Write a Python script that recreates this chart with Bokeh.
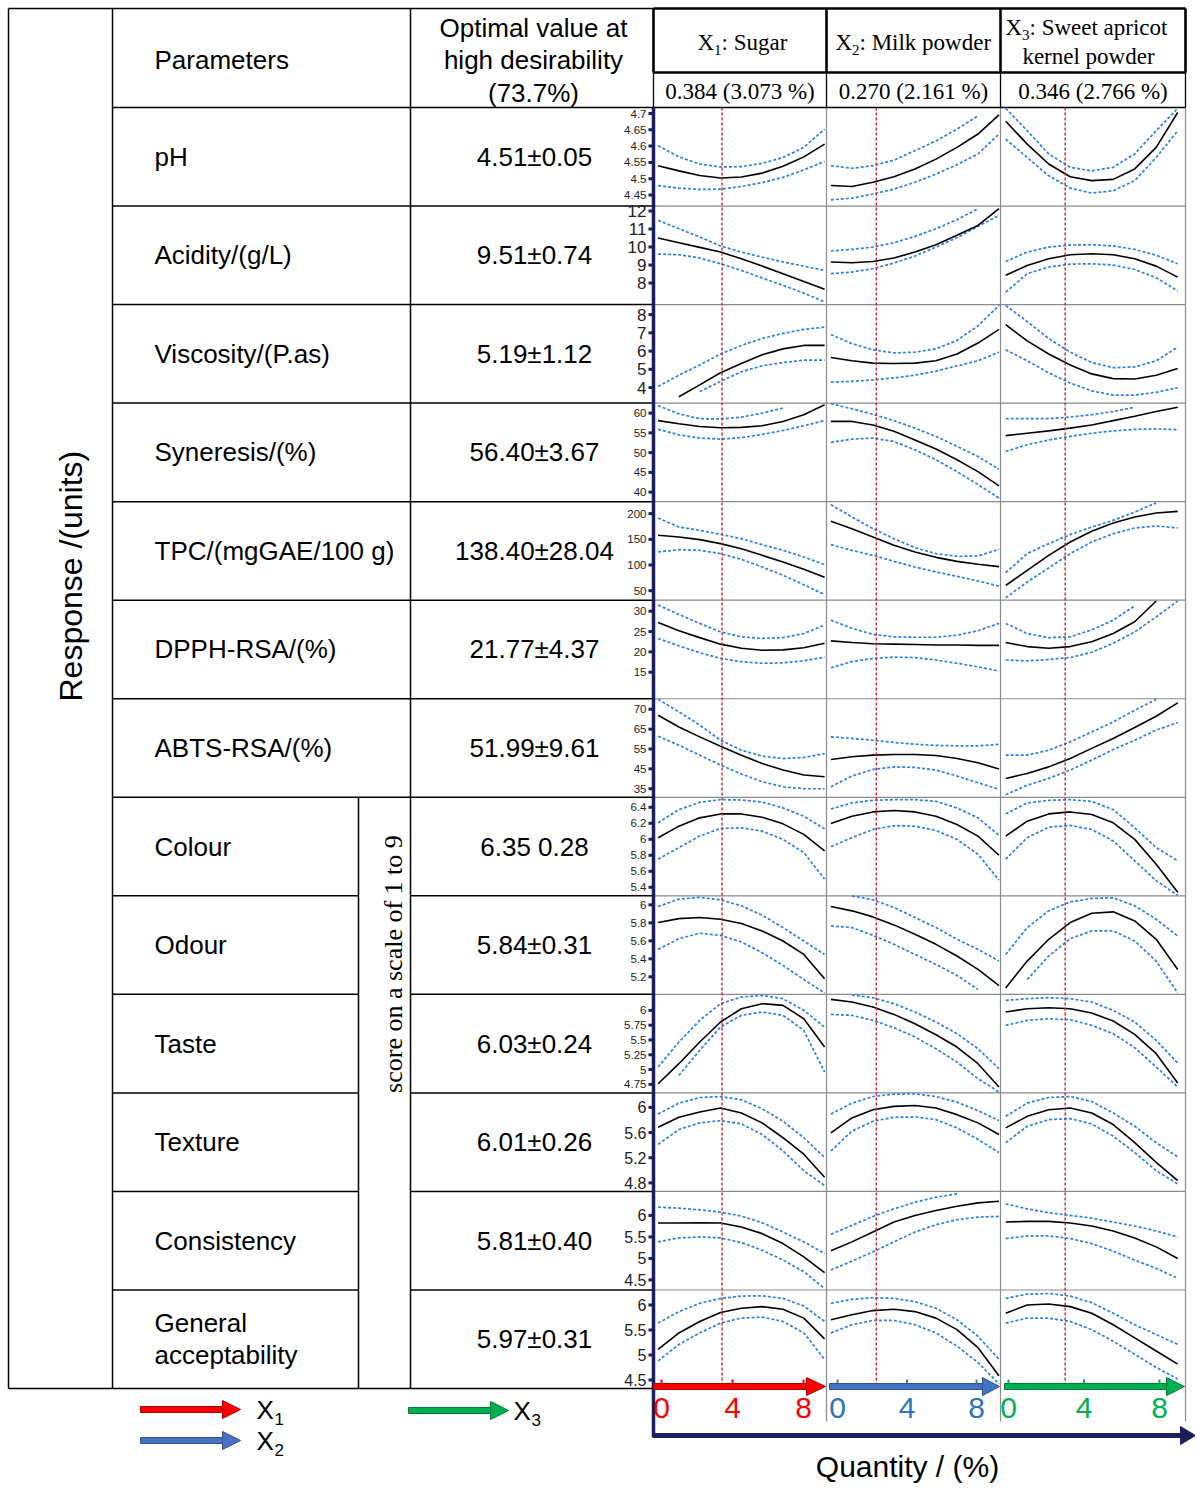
import math
from bokeh.plotting import figure
from bokeh.models import Range1d
from bokeh.embed import file_html
from bokeh.resources import INLINE
from bokeh.core.properties import value

nan = float("nan")

# ---------------- data ----------------
QUANTITY = [0, 1, 2, 3, 4, 5, 6, 7, 8]           # % of each ingredient
FACTOR_NAMES = [": Sugar", ": Milk powder", ": Sweet apricot"]
OPT_LABELS = ["0.384 (3.073 %)", "0.270 (2.161 %)", "0.346 (2.766 %)"]
OPT_PCT = [3.073, 2.161, 2.766]
QTY_TICKS = [0, 4, 8]

PARAMS = ["pH", "Acidity/(g/L)", "Viscosity/(P.as)", "Syneresis/(%)", "TPC/(mgGAE/100 g)",
          "DPPH-RSA/(%)", "ABTS-RSA/(%)", "Colour", "Odour", "Taste", "Texture", "Consistency",
          "General\nacceptability"]
OPTIMA = ["4.51\u00b10.05", "9.51\u00b10.74", "5.19\u00b11.12", "56.40\u00b13.67", "138.40\u00b128.04",
          "21.77\u00b14.37", "51.99\u00b19.61", "6.35 0.28", "5.84\u00b10.31", "6.03\u00b10.24",
          "6.01\u00b10.26", "5.81\u00b10.40", "5.97\u00b10.31"]

PH_TICKS = [4.7, 4.65, 4.6, 4.55, 4.5, 4.45]
PH_LABELS = ["4.7", "4.65", "4.6", "4.55", "4.5", "4.45"]
PH_FIT = [[4.540, 4.524, 4.510, 4.502, 4.505, 4.517, 4.538, 4.567, 4.606],
          [4.479, 4.476, 4.489, 4.506, 4.530, 4.560, 4.596, 4.637, 4.696],
          [4.676, 4.606, 4.545, 4.506, 4.494, 4.498, 4.530, 4.596, 4.703]]
PH_HI = [[4.601, 4.567, 4.545, 4.536, 4.537, 4.547, 4.565, 4.596, 4.652],
         [4.540, 4.532, 4.540, 4.557, 4.586, 4.616, 4.652, 4.693, nan],
         [4.716, 4.647, 4.576, 4.535, 4.524, 4.535, 4.576, 4.647, 4.716]]
PH_LO = [[4.479, 4.471, 4.467, 4.468, 4.476, 4.488, 4.504, 4.527, 4.553],
         [4.435, 4.440, 4.453, 4.468, 4.489, 4.514, 4.543, 4.576, 4.637],
         [4.621, 4.565, 4.509, 4.471, 4.456, 4.463, 4.494, 4.565, 4.647]]

AC_TICKS = [12, 11, 10, 9, 8]
AC_LABELS = ["12", "11", "10", "9", "8"]
AC_FIT = [[10.50, 10.24, 9.98, 9.72, 9.35, 8.94, 8.52, 8.09, 7.65],
          [9.17, 9.13, 9.20, 9.39, 9.72, 10.13, 10.65, 11.20, 12.13],
          [8.43, 8.98, 9.35, 9.57, 9.63, 9.57, 9.35, 8.94, 8.33]]
AC_HI = [[11.48, 11.02, 10.56, 10.06, 9.72, 9.44, 9.17, 8.94, 8.70],
         [9.78, 9.87, 10.00, 10.24, 10.59, 11.02, 11.52, 12.13, nan],
         [9.20, 9.72, 10.00, 10.11, 10.13, 10.06, 9.87, 9.54, 9.07]]
AC_LO = [[9.61, 9.57, 9.39, 9.07, 8.70, 8.28, 7.87, 7.44, 6.95],
         [8.52, 8.61, 8.80, 9.11, 9.50, 10.00, 10.52, 11.15, 11.76],
         [7.50, 8.52, 8.89, 9.05, 9.07, 9.00, 8.75, 8.30, 7.56]]

VI_TICKS = [8, 7, 6, 5, 4]
VI_LABELS = ["8", "7", "6", "5", "4"]
VI_FIT = [[nan, 3.50, 4.15, 4.81, 5.32, 5.80, 6.12, 6.31, 6.31],
          [5.65, 5.47, 5.34, 5.32, 5.34, 5.47, 5.84, 6.44, 7.19],
          [7.45, 6.56, 5.84, 5.24, 4.75, 4.49, 4.47, 4.68, 5.04]]
VI_HI = [[4.06, 4.68, 5.24, 5.84, 6.31, 6.69, 6.97, 7.19, 7.31],
         [6.91, 6.41, 6.07, 5.90, 5.94, 6.12, 6.59, 7.38, 8.50],
         [8.50, 7.62, 6.69, 5.94, 5.37, 5.09, 5.13, 5.47, 6.22]]
VI_LO = [[nan, nan, 3.78, 4.34, 4.87, 5.19, 5.37, 5.50, 5.50],
         [4.30, 4.34, 4.42, 4.53, 4.68, 4.90, 5.19, 5.47, 5.94],
         [6.07, 5.47, 4.81, 4.25, 3.82, 3.59, 3.59, 3.74, 4.00]]

SY_TICKS = [60, 55, 50, 45, 40]
SY_LABELS = ["60", "55", "50", "45", "40"]
SY_FIT = [[58.1, 57.3, 56.6, 56.3, 56.4, 56.8, 57.9, 59.6, 62.1],
          [57.9, 57.9, 57.0, 55.4, 53.2, 50.9, 48.2, 45.2, 41.6],
          [54.3, 54.9, 55.5, 56.2, 57.0, 58.1, 59.2, 60.4, 61.5]]
SY_HI = [[61.9, 59.8, 58.6, 58.5, 59.0, 60.0, 61.3, nan, nan],
         [62.4, 61.1, 59.7, 58.1, 56.2, 54.1, 51.6, 49.0, 45.8],
         [58.6, 58.6, 58.6, 59.0, 59.6, 60.4, 61.5, nan, nan]]
SY_LO = [[55.9, 54.5, 53.7, 53.4, 53.8, 54.6, 55.6, 56.8, 58.1],
         [52.6, 53.4, 53.7, 52.8, 50.7, 48.2, 45.2, 41.9, 38.5],
         [50.3, 52.0, 53.2, 54.1, 54.9, 55.5, 55.9, 56.0, 55.8]]

TP_TICKS = [200, 150, 100, 50]
TP_LABELS = ["200", "150", "100", "50"]
TP_FIT = [[157.8, 154.5, 149.4, 141.6, 131.8, 118.8, 105.8, 91.6, 76.0],
          [185.1, 170.8, 154.5, 138.3, 125.3, 114.9, 107.1, 101.3, 96.8],
          [60.0, 89.6, 118.8, 144.8, 165.6, 181.8, 193.5, 201.3, 204.5]]
TP_HI = [[191.6, 174.0, 167.5, 159.7, 151.3, 139.6, 128.6, 115.6, 100.6],
         [217.5, 193.5, 170.8, 151.3, 133.8, 122.1, 116.9, 117.5, 130.5],
         [85.0, 122.1, 141.6, 159.1, 174.0, 187.0, 203.2, 221.0, nan]]
TP_LO = [[125.3, 129.9, 128.6, 122.1, 111.0, 96.1, 79.9, 61.7, 42.2],
         [139.6, 128.6, 118.8, 107.1, 96.1, 86.4, 77.9, 68.8, 59.1],
         [36.0, 66.9, 94.2, 122.1, 144.8, 161.0, 172.1, 176.0, 172.1]]

DP_TICKS = [30, 25, 20, 15]
DP_LABELS = ["30", "25", "20", "15"]
DP_FIT = [[27.2, 25.2, 23.5, 21.9, 20.9, 20.4, 20.5, 21.0, 22.1],
          [22.7, 22.3, 22.0, 21.9, 21.8, 21.7, 21.7, 21.6, 21.6],
          [22.3, 21.3, 20.9, 21.3, 22.5, 24.5, 27.4, 32.5, nan]]
DP_HI = [[31.5, 29.2, 27.0, 24.9, 23.7, 23.3, 23.5, 24.5, 26.6],
         [27.8, 25.8, 24.3, 23.7, 23.6, 23.6, 24.1, 25.2, 27.0],
         [27.0, 24.5, 23.5, 23.7, 25.4, 27.8, 31.3, nan, nan]]
DP_LO = [[23.3, 21.5, 19.8, 18.4, 17.6, 17.2, 17.3, 17.8, 18.7],
         [16.1, 17.6, 18.4, 18.7, 18.6, 18.0, 17.2, 16.3, 15.3],
         [18.0, 17.8, 18.1, 18.6, 19.9, 22.1, 24.9, 28.6, 32.5]]

AB_TICKS = [75, 65, 55, 45, 35]
AB_LABELS = ["70", "65", "55", "45", "35"]
AB_FIT = [[72.0, 66.1, 61.1, 56.4, 51.9, 47.7, 44.4, 41.9, 41.0],
          [49.7, 51.1, 51.9, 52.2, 52.2, 51.7, 50.2, 48.1, 44.9],
          [40.2, 42.7, 46.0, 50.2, 55.3, 60.3, 65.8, 71.5, 78.2]]
AB_HI = [[80.0, 73.7, 67.0, 59.4, 54.4, 51.4, 50.2, 50.7, 52.7],
         [61.1, 60.3, 59.4, 58.3, 57.4, 56.8, 56.6, 56.6, 57.3],
         [51.9, 51.9, 54.4, 58.6, 63.6, 68.6, 74.5, 80.0, nan]]
AB_LO = [[61.4, 56.9, 51.9, 46.9, 42.4, 38.5, 36.0, 35.0, 35.0],
         [36.0, 41.4, 44.7, 46.0, 45.7, 44.4, 41.4, 38.0, 34.7],
         [32.0, 36.8, 40.2, 44.4, 49.4, 54.7, 59.4, 64.5, 68.3]]

CO_TICKS = [6.4, 6.2, 6.0, 5.8, 5.6, 5.4]
CO_LABELS = ["6.4", "6.2", "6", "5.8", "5.6", "5.4"]
CO_FIT = [[6.020, 6.164, 6.268, 6.317, 6.317, 6.276, 6.193, 6.061, 5.855],
          [6.198, 6.288, 6.342, 6.359, 6.342, 6.288, 6.185, 6.040, 5.800],
          [6.040, 6.226, 6.317, 6.342, 6.309, 6.206, 5.999, 5.689, 5.338]]
CO_HI = [[6.206, 6.371, 6.462, 6.495, 6.491, 6.466, 6.392, 6.288, 6.131],
         [6.379, 6.454, 6.487, 6.495, 6.495, 6.474, 6.392, 6.268, 6.049],
         [6.317, 6.454, 6.487, 6.495, 6.474, 6.371, 6.144, 5.896, 5.731]]
CO_LO = [[5.751, 5.896, 6.040, 6.136, 6.144, 6.102, 5.999, 5.834, 5.503],
         [5.908, 6.020, 6.123, 6.169, 6.164, 6.110, 5.999, 5.813, 5.491],
         [5.751, 6.020, 6.152, 6.173, 6.123, 5.979, 5.731, 5.483, 5.300]]

OD_TICKS = [6.0, 5.8, 5.6, 5.4, 5.2]
OD_LABELS = ["6", "5.8", "5.6", "5.4", "5.2"]
OD_FIT = [[5.803, 5.847, 5.859, 5.840, 5.792, 5.710, 5.598, 5.449, 5.178],
          [5.981, 5.933, 5.866, 5.777, 5.673, 5.561, 5.431, 5.282, 5.103],
          [5.077, 5.375, 5.617, 5.803, 5.907, 5.922, 5.821, 5.617, 5.282]]
OD_HI = [[5.981, 6.063, 6.082, 6.056, 5.989, 5.885, 5.747, 5.598, 5.449],
         [nan, 6.100, 6.056, 5.970, 5.859, 5.747, 5.617, 5.505, 5.375],
         [5.449, 5.747, 5.933, 6.033, 6.071, 6.078, 5.989, 5.840, 5.654]]
OD_LO = [[5.505, 5.624, 5.684, 5.661, 5.587, 5.468, 5.327, 5.170, 5.020],
         [5.766, 5.747, 5.661, 5.561, 5.449, 5.338, 5.215, 5.059, nan],
         [nan, 5.170, 5.431, 5.624, 5.710, 5.710, 5.598, 5.375, 5.020]]

TA_TICKS = [6.0, 5.75, 5.5, 5.25, 5.0, 4.75]
TA_LABELS = ["6", "5.75", "5.5", "5.25", "5", "4.75"]
TA_FIT = [[4.761, 5.099, 5.465, 5.803, 6.028, 6.113, 6.084, 5.859, 5.381],
          [6.186, 6.141, 6.056, 5.932, 5.775, 5.589, 5.381, 5.099, 4.705],
          [5.972, 6.028, 6.045, 6.028, 5.955, 5.820, 5.595, 5.268, 4.773]]
TA_HI = [[5.043, 5.465, 5.831, 6.113, 6.225, 6.253, 6.197, 6.000, 5.718],
         [nan, 6.260, 6.214, 6.113, 5.972, 5.803, 5.606, 5.352, 5.015],
         [6.169, 6.197, 6.214, 6.197, 6.141, 6.000, 5.803, 5.493, 5.110]]
TA_LO = [[nan, 4.902, 5.324, 5.718, 5.916, 5.972, 5.916, 5.662, 4.958],
         [5.932, 5.916, 5.831, 5.707, 5.550, 5.352, 5.127, 4.846, 4.620],
         [5.747, 5.831, 5.859, 5.842, 5.747, 5.606, 5.369, 5.043, 4.705]]

TE_TICKS = [6.0, 5.6, 5.2, 4.8]
TE_LABELS = ["6", "5.6", "5.2", "4.8"]
TE_FIT = [[5.686, 5.843, 5.927, 5.990, 5.911, 5.754, 5.518, 5.256, 4.889],
          [5.596, 5.832, 5.963, 6.016, 6.031, 5.990, 5.885, 5.754, 5.570],
          [5.675, 5.858, 5.963, 5.990, 5.911, 5.727, 5.439, 5.125, 4.836]]
TE_HI = [[5.895, 6.068, 6.157, 6.173, 6.121, 5.979, 5.780, 5.518, 5.203],
         [5.895, 6.068, 6.173, 6.210, 6.215, 6.173, 6.084, 5.948, 5.790],
         [5.858, 6.068, 6.157, 6.173, 6.094, 5.911, 5.701, 5.439, 5.214]]
TE_LO = [[5.413, 5.649, 5.754, 5.790, 5.738, 5.570, 5.308, 4.994, 4.758],
         [5.308, 5.623, 5.780, 5.843, 5.848, 5.806, 5.675, 5.492, 5.282],
         [5.439, 5.701, 5.806, 5.822, 5.738, 5.544, 5.282, 4.994, 4.784]]

CS_TICKS = [6.0, 5.5, 5.0, 4.5]
CS_LABELS = ["6", "5.5", "5", "4.5"]
CS_FIT = [[5.823, 5.823, 5.831, 5.823, 5.731, 5.577, 5.346, 5.038, 4.669],
          [5.177, 5.385, 5.615, 5.846, 6.000, 6.115, 6.215, 6.292, 6.331],
          [5.846, 5.862, 5.862, 5.823, 5.754, 5.638, 5.477, 5.269, 5.000]]
CS_HI = [[6.192, 6.169, 6.131, 6.077, 5.985, 5.831, 5.615, 5.385, 5.115],
         [5.562, 5.769, 5.977, 6.154, 6.308, 6.423, 6.500, nan, nan],
         [6.269, 6.154, 6.062, 6.000, 5.938, 5.846, 5.754, 5.638, 5.500]]
CS_LO = [[5.385, 5.477, 5.500, 5.477, 5.369, 5.192, 4.962, 4.692, 4.300],
         [4.731, 4.938, 5.154, 5.385, 5.615, 5.785, 5.900, 5.962, 5.977],
         [5.462, 5.523, 5.523, 5.462, 5.346, 5.169, 4.962, 4.769, 4.538]]

GA_TICKS = [6.0, 5.5, 5.0, 4.5]
GA_LABELS = ["6", "5.5", "5", "4.5"]
GA_FIT = [[5.112, 5.441, 5.671, 5.849, 5.934, 5.967, 5.914, 5.737, 5.322],
          [5.704, 5.803, 5.888, 5.914, 5.868, 5.737, 5.507, 5.145, 4.586],
          [5.836, 6.000, 6.020, 5.967, 5.836, 5.605, 5.342, 5.079, 4.816]]
GA_HI = [[5.638, 5.868, 6.033, 6.132, 6.178, 6.184, 6.132, 5.980, 5.671],
         [6.033, 6.112, 6.145, 6.132, 6.066, 5.934, 5.704, 5.375, 4.914],
         [6.132, 6.217, 6.230, 6.178, 6.046, 5.836, 5.605, 5.408, 5.211]]
GA_LO = [[4.882, 5.211, 5.441, 5.638, 5.737, 5.757, 5.671, 5.441, 4.914],
         [5.441, 5.605, 5.691, 5.691, 5.605, 5.441, 5.178, 4.849, 4.420],
         [5.638, 5.737, 5.737, 5.671, 5.507, 5.276, 5.013, 4.750, 4.520]]

ROWS = [
    (PH_TICKS, PH_LABELS, PH_FIT, PH_LO, PH_HI),
    (AC_TICKS, AC_LABELS, AC_FIT, AC_LO, AC_HI),
    (VI_TICKS, VI_LABELS, VI_FIT, VI_LO, VI_HI),
    (SY_TICKS, SY_LABELS, SY_FIT, SY_LO, SY_HI),
    (TP_TICKS, TP_LABELS, TP_FIT, TP_LO, TP_HI),
    (DP_TICKS, DP_LABELS, DP_FIT, DP_LO, DP_HI),
    (AB_TICKS, AB_LABELS, AB_FIT, AB_LO, AB_HI),
    (CO_TICKS, CO_LABELS, CO_FIT, CO_LO, CO_HI),
    (OD_TICKS, OD_LABELS, OD_FIT, OD_LO, OD_HI),
    (TA_TICKS, TA_LABELS, TA_FIT, TA_LO, TA_HI),
    (TE_TICKS, TE_LABELS, TE_FIT, TE_LO, TE_HI),
    (CS_TICKS, CS_LABELS, CS_FIT, CS_LO, CS_HI),
    (GA_TICKS, GA_LABELS, GA_FIT, GA_LO, GA_HI),
]

# ---------------- layout (page pixels) ----------------
FX0, FX1, FY0, FY1 = 0, 1195, 0, 1486
ROW0, ROW_H = 107.0, 98.54
TOP = 8
XL, XRESP, XPAR, X358, XOPT = 8, 112, 410, 358, 653
XCOL = [653, 826, 1000, 1185]
# pixel offsets (from the row top) of first and last tick of each row, and tick font size
TICK_PX = [(6, 87.5), (5, 77), (10, 83), (10, 89), (12, 89), (11, 72), (10.5, 90),
           (10, 90), (9, 81), (16, 90), (14.5, 90), (24, 88.5), (15, 90)]
TICK_FS = ["11.5px", "17px", "17px", "11.5px", "11.5px", "11.5px", "11.5px",
           "11.5px", "11.5px", "11.5px", "16px", "16px", "16px"]
CURVE_PX = [(657.6, 824.1), (830.4, 998.5), (1005.2, 1177.2)]   # where 0 % and 8 % fall
ARROW_PX = [(661, 803), (837, 976), (1008, 1159)]                # bottom arrow tick scale
BOTTOM = ROW0 + 13 * ROW_H

SANS = value("Liberation Sans")
SERIF = value("Liberation Serif")
NAVY = "#1b1f5c"
CI_COLOR = "#2a82e4"
DOT_RED = "#c0282d"


def lin_range(va, pa, vb, pb, lo_px, hi_px):
    k = (vb - va) / (pb - pa)
    return Range1d(start=va + (lo_px - pa) * k, end=va + (hi_px - pa) * k)


p = figure(width=FX1 - FX0, height=FY1 - FY0, x_range=Range1d(FX0, FX1), y_range=Range1d(FY1, FY0),
           x_axis_location=None, y_axis_location=None, toolbar_location=None,
           output_backend="svg", min_border=0, outline_line_color=None, title=None)
p.background_fill_color = "white"
p.border_fill_color = "white"
p.xgrid.grid_line_color = None
p.ygrid.grid_line_color = None
p.grid.visible = False

extra_x = {}
for c in range(3):
    extra_x[f"c{c}"] = lin_range(QUANTITY[0], CURVE_PX[c][0], QUANTITY[-1], CURVE_PX[c][1], FX0, FX1)
    extra_x[f"a{c}"] = lin_range(QTY_TICKS[0], ARROW_PX[c][0], QTY_TICKS[-1], ARROW_PX[c][1], FX0, FX1)
extra_y = {}
for r, (ticks, labels, fit, lo, hi) in enumerate(ROWS):
    top = ROW0 + r * ROW_H
    extra_y[f"r{r}"] = lin_range(ticks[0], top + TICK_PX[r][0], ticks[-1], top + TICK_PX[r][1], FY1, FY0)
p.extra_x_ranges = extra_x
p.extra_y_ranges = extra_y


def txt(x, y, s, size, font=SANS, align="left", color="black", angle=0.0, baseline="middle"):
    p.text(x=[x], y=[y], text=[s], text_font=font, text_font_size=size, text_align=align,
           text_baseline=baseline, text_color=color, angle=angle)


def seg(x0, y0, x1, y1, color="black", width=1.5):
    p.segment(x0=[x0], y0=[y0], x1=[x1], y1=[y1], line_color=color, line_width=width)


row_y = [ROW0 + i * ROW_H for i in range(14)]

# ---------- panel grid (gray) ----------
for i in range(1, 13):
    seg(XOPT, row_y[i], XCOL[3], row_y[i], "#8a8a8a", 1.2)
for xc in XCOL[1:]:
    seg(xc, ROW0, xc, 1421, "#8a8a8a", 1.2)

# ---------- left table ----------
seg(XL, TOP, XOPT, TOP)
seg(XL, TOP, XL, BOTTOM)
seg(XRESP, TOP, XRESP, BOTTOM)
seg(XPAR, TOP, XPAR, BOTTOM)
seg(X358, row_y[7], X358, BOTTOM)
seg(XL, BOTTOM, XOPT, BOTTOM)
for i in range(0, 8):
    seg(XRESP, row_y[i], XOPT, row_y[i])
for i in range(8, 13):
    seg(XRESP, row_y[i], X358, row_y[i])
    seg(XPAR, row_y[i], XOPT, row_y[i])

# ---------- header ----------
HB = 72
for xc in XCOL:
    seg(xc, TOP, xc, HB, "black", 2.6)
    seg(xc, HB, xc, ROW0, "black", 1.3)
seg(XCOL[0], TOP, XCOL[3], TOP, "black", 2.6)
seg(XCOL[0], HB, XCOL[3], HB, "black", 2.6)
seg(XCOL[0], ROW0, XCOL[3], ROW0, "black", 1.3)

txt(154, 59, "Parameters", "26px")
txt(533, 27, "Optimal value at", "26px", align="center")
txt(533, 59, "high desirability", "26px", align="center")
txt(533, 92, "(73.7%)", "26px", align="center")

head_x = [697, 835, 1005]
head_y = [42, 42, 27]
for c in range(3):
    txt(head_x[c], head_y[c], "X", "23px", SERIF)
    txt(head_x[c] + 16.5, head_y[c] + 7, str(c + 1), "15px", SERIF)
    txt(head_x[c] + 24, head_y[c], FACTOR_NAMES[c], "23px", SERIF)
    txt((XCOL[c] + XCOL[c + 1]) / 2, 91, OPT_LABELS[c], "23px", SERIF, align="center")
txt(1088, 56, "kernel powder", "23px", SERIF, align="center")

# ---------- row labels & optimum values ----------
for r in range(13):
    yc = (row_y[r] + row_y[r + 1]) / 2
    lab = PARAMS[r]
    if "\n" in lab:
        a, b = lab.split("\n")
        txt(154, yc - 16, a, "26px")
        txt(154, yc + 16, b, "26px")
    else:
        txt(154, yc, lab, "26px")
    txt(534, yc, OPTIMA[r], "26px", align="center")

txt(70, (TOP + BOTTOM) / 2 + 3, "Response /(units)", "32px", angle=math.pi / 2)
txt(393, (row_y[7] + BOTTOM) / 2, "score on a scale of 1 to 9", "26px", SERIF, angle=math.pi / 2)

# ---------- curves ----------
for r, (ticks, labels, fit, lo, hi) in enumerate(ROWS):
    rn = f"r{r}"
    for c in range(3):
        cn = f"c{c}"
        p.line(QUANTITY, hi[c], x_range_name=cn, y_range_name=rn, line_color=CI_COLOR,
               line_width=1.7, line_dash="3 2")
        p.line(QUANTITY, lo[c], x_range_name=cn, y_range_name=rn, line_color=CI_COLOR,
               line_width=1.7, line_dash="3 2")
        p.line(QUANTITY, fit[c], x_range_name=cn, y_range_name=rn, line_color="black",
               line_width=1.6)
    # tick labels and ticks
    p.text(x=[646] * len(ticks), y=ticks, text=labels, y_range_name=rn, text_font=SANS,
           text_font_size=TICK_FS[r], text_align="right", text_baseline="middle",
           text_color="#222222")
    p.segment(x0=[648] * len(ticks), x1=[653] * len(ticks), y0=ticks, y1=ticks,
              y_range_name=rn, line_color=NAVY, line_width=3)

# optimum dotted lines
for c in range(3):
    p.segment(x0=[OPT_PCT[c]], x1=[OPT_PCT[c]], y0=[ROW0], y1=[BOTTOM - 2],
              x_range_name=f"c{c}", line_color=DOT_RED, line_width=1.4, line_dash="3 2")

# ---------- y axis line & bottom arrows ----------
seg(XOPT, ROW0, XOPT, 1437, NAVY, 3.5)
seg(XOPT, 1435, 1182, 1435, NAVY, 5)
p.patch([1180, 1195, 1180], [1426, 1435, 1444], fill_color=NAVY, line_color=NAVY)

ARROW_COL = ["#ff0000", "#4472c4", "#00b050"]
ARROW_EDGE = ["#b00000", "#2f528f", "#007a3a"]
LABEL_COL = ["#ff0000", "#2e75b6", "#00b050"]
shaft = [(653, 808), (829, 984), (1004, 1168)]
for c in range(3):
    y = BOTTOM - 2
    p.quad(left=[shaft[c][0]], right=[shaft[c][1]], top=[y - 3], bottom=[y + 3],
           fill_color=ARROW_COL[c], line_color=ARROW_EDGE[c], line_width=1)
    tip = XCOL[c + 1] - 1
    p.patch([shaft[c][1] - 2, tip, shaft[c][1] - 2], [y - 9, y, y + 9],
            fill_color=ARROW_COL[c], line_color=ARROW_EDGE[c], line_width=1)
    p.segment(x0=QTY_TICKS, x1=QTY_TICKS, y0=[y - 7] * 3, y1=[y - 3] * 3,
              x_range_name=f"a{c}", line_color=ARROW_COL[c], line_width=2)
    p.text(x=QTY_TICKS, y=[1407] * 3, text=[str(t) for t in QTY_TICKS], x_range_name=f"a{c}",
           text_font=SANS, text_font_size="30px", text_align="center", text_baseline="middle",
           text_color=LABEL_COL[c])

txt(907, 1466, "Quantity / (%)", "30px", align="center")

# ---------- legend ----------
leg = [(140, 224, 1409, 0, 256), (140, 224, 1440, 1, 256), (408, 492, 1410, 2, 513)]
for x0, x1, y, c, tx in leg:
    p.quad(left=[x0], right=[x1], top=[y - 3], bottom=[y + 3],
           fill_color=ARROW_COL[c], line_color=ARROW_EDGE[c], line_width=1)
    p.patch([x1 - 2, x1 + 16, x1 - 2], [y - 9, y, y + 9],
            fill_color=ARROW_COL[c], line_color=ARROW_EDGE[c], line_width=1)
    txt(tx, y, "X", "26px")
    txt(tx + 18, y + 9, str(c + 1), "17px")

open("out.html", "w").write(file_html(p, INLINE))
